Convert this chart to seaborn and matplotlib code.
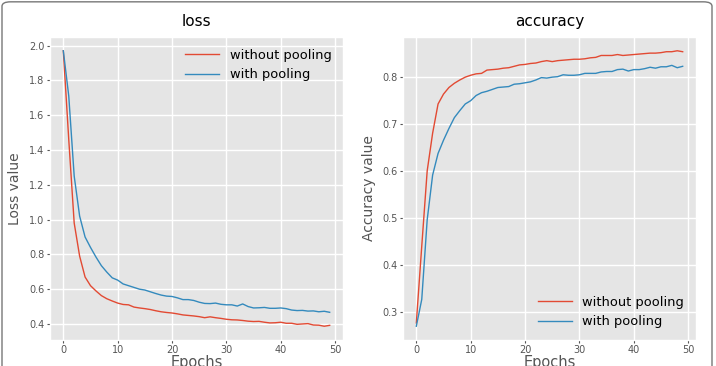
import matplotlib
matplotlib.use("Agg")
import matplotlib.pyplot as plt
from matplotlib.patches import FancyBboxPatch
import seaborn as sns
import pandas as pd
import numpy as np

epochs = list(range(50))
series_names = ["without pooling", "with pooling"]

loss_without = [1.97, 1.46, 0.98, 0.79, 0.67, 0.62, 0.59, 0.563, 0.545, 0.532,
                0.52, 0.512, 0.51, 0.497, 0.492, 0.488, 0.483, 0.476, 0.47, 0.466,
                0.463, 0.458, 0.452, 0.449, 0.446, 0.442, 0.436, 0.441, 0.436, 0.432,
                0.427, 0.424, 0.423, 0.42, 0.416, 0.414, 0.415, 0.41, 0.406, 0.407,
                0.41, 0.404, 0.404, 0.398, 0.4, 0.402, 0.394, 0.393, 0.387, 0.392]
loss_with = [1.97, 1.71, 1.25, 1.02, 0.9, 0.84, 0.785, 0.735, 0.698, 0.665,
             0.652, 0.63, 0.62, 0.61, 0.6, 0.595, 0.585, 0.575, 0.566, 0.56,
             0.558, 0.55, 0.54, 0.54, 0.535, 0.525, 0.518, 0.517, 0.52, 0.513,
             0.51, 0.51, 0.503, 0.515, 0.5, 0.492, 0.493, 0.495, 0.49, 0.49,
             0.492, 0.488, 0.48, 0.477, 0.478, 0.474, 0.475, 0.47, 0.473, 0.467]
acc_without = [0.277, 0.44, 0.60, 0.68, 0.742, 0.763, 0.777, 0.786, 0.793, 0.799,
               0.803, 0.806, 0.807, 0.814, 0.815, 0.816, 0.818, 0.819, 0.822, 0.825,
               0.826, 0.828, 0.829, 0.832, 0.834, 0.832, 0.834, 0.835, 0.836, 0.837,
               0.837, 0.838, 0.840, 0.841, 0.845, 0.845, 0.845, 0.847, 0.845, 0.846,
               0.847, 0.848, 0.849, 0.850, 0.850, 0.851, 0.853, 0.853, 0.855, 0.853]
acc_with = [0.270, 0.327, 0.496, 0.591, 0.637, 0.665, 0.69, 0.713, 0.728, 0.742,
            0.749, 0.760, 0.766, 0.769, 0.773, 0.777, 0.778, 0.779, 0.784, 0.785,
            0.787, 0.789, 0.793, 0.798, 0.797, 0.799, 0.800, 0.804, 0.803, 0.803,
            0.804, 0.807, 0.807, 0.807, 0.810, 0.811, 0.811, 0.815, 0.816, 0.812,
            0.815, 0.815, 0.817, 0.820, 0.818, 0.821, 0.821, 0.824, 0.819, 0.822]

xticks = [0, 10, 20, 30, 40, 50]
loss_yticks = [0.4, 0.6, 0.8, 1.0, 1.2, 1.4, 1.6, 1.8, 2.0]
acc_yticks = [0.3, 0.4, 0.5, 0.6, 0.7, 0.8]

colors = ["#E24A33", "#348ABD"]

plt.style.use("ggplot")
plt.rcParams["font.family"] = ["DejaVu Sans"]

def make_df(a, b):
    return pd.DataFrame({
        "epoch": epochs + epochs,
        "value": a + b,
        "series": [series_names[0]] * len(a) + [series_names[1]] * len(b),
    })

fig = plt.figure(figsize=(7.16, 3.66), dpi=100)
ax1 = fig.add_axes([50 / 716, 26 / 366, 293 / 716, 303 / 366])
ax2 = fig.add_axes([403 / 716, 26 / 366, 293 / 716, 303 / 366])

for ax, df, title, ylabel, yticks, loc, ylx in [
    (ax1, make_df(loss_without, loss_with), "loss", "Loss value", loss_yticks, "upper right", -0.096),
    (ax2, make_df(acc_without, acc_with), "accuracy", "Accuracy value", acc_yticks, "lower right", -0.092),
]:
    sns.lineplot(data=df, x="epoch", y="value", hue="series", palette=colors,
                 ax=ax, linewidth=1.0)
    ax.set_facecolor("#E5E5E5")
    ax.grid(True, color="white", linewidth=1.0)
    ax.set_xticks(xticks)
    ax.set_yticks(yticks)
    ax.tick_params(labelsize=7, colors="#555555", length=2.5, pad=1.5)
    ax.tick_params(axis="x", pad=1)
    ax.set_title(title, fontsize=11, color="black", pad=8)
    ax.set_xlabel("Epochs", fontsize=10.5, color="#555555")
    ax.xaxis.set_label_coords(0.5, -0.05)
    ax.set_ylabel(ylabel, fontsize=10, color="#555555")
    ax.yaxis.set_label_coords(ylx, 0.5)
    leg = ax.legend(loc=loc, fontsize=9.4, frameon=False, handlelength=2.6)
    for t in leg.get_texts():
        t.set_color("black")

ax1.set_xlim(-2.45, 51.45)
ax2.set_xlim(-2.45, 51.45)

frame = FancyBboxPatch((2 / 716, -0.2), 710 / 716, 1.195,
                       boxstyle="round,pad=0,rounding_size=0.012",
                       transform=fig.transFigure, fill=False,
                       edgecolor="#777777", linewidth=1.0, clip_on=False)
fig.patches.append(frame)

fig.savefig("out.png", dpi=100, facecolor="white")
